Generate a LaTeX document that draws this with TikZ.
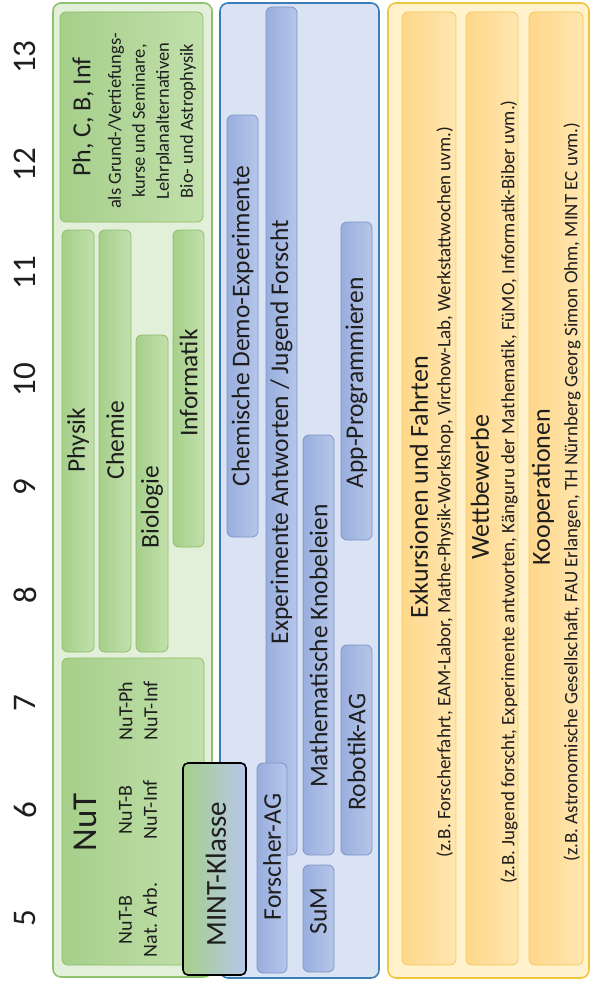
\documentclass[tikz,border=0pt]{standalone}
\usepackage{fontspec}
\setmainfont{Carlito}
\definecolor{gbg}{HTML}{E2F0D9}
\definecolor{gbord}{HTML}{8FC26C}
\definecolor{gil}{HTML}{A6CF8A}
\definecolor{gir}{HTML}{C2E0AC}
\definecolor{gib}{HTML}{8CBD69}
\definecolor{bbg}{HTML}{DAE3F3}
\definecolor{bbord}{HTML}{3B7DB8}
\definecolor{bil}{HTML}{99AEDD}
\definecolor{bir}{HTML}{B6C6EA}
\definecolor{bib}{HTML}{7E94C8}
\definecolor{ybg}{HTML}{FFF2CC}
\definecolor{ybord}{HTML}{F0C63E}
\definecolor{yil}{HTML}{FFD78A}
\definecolor{yir}{HTML}{FFE6B0}
\definecolor{yib}{HTML}{F3C95A}
\definecolor{txt}{HTML}{1E1E1E}
\tikzset{
  outerbox/.style={rounded corners=8pt, line width=1.6pt, inner sep=0pt},
  gouter/.style={outerbox, draw=gbord, fill=gbg},
  bouter/.style={outerbox, draw=bbord, fill=bbg},
  youter/.style={outerbox, draw=ybord, fill=ybg},
  innerbox/.style={rounded corners=6pt, line width=0.8pt, inner sep=0pt},
  ginner/.style={innerbox, draw=gib, left color=gil, right color=gir},
  binner/.style={innerbox, draw=bib, left color=bil, right color=bir},
  yinner/.style={innerbox, draw=yib, left color=yil, right color=yir},
  mintbox/.style={rounded corners=5pt, line width=1.6pt, draw=black, left color=gil, right color=bir, inner sep=0pt},
  lbl/.style={rotate=90, text=txt, inner sep=0pt, font=\fontsize{25.5}{28}\selectfont},
  grade/.style={rotate=90, text=txt, inner sep=0pt, font=\fontsize{33}{36}\selectfont},
  ttl/.style={rotate=90, text=txt, inner sep=0pt, font=\fontsize{26}{30}\selectfont},
  subt/.style={rotate=90, text=txt, inner sep=0pt, font=\fontsize{19}{22}\selectfont},
  small/.style={rotate=90, text=txt, inner sep=0pt, align=center, font=\fontsize{18.5}{24}\selectfont},
  nutsub/.style={rotate=90, text=txt, inner sep=0pt, align=center, font=\fontsize{20}{25}\selectfont},
}
\begin{document}
\begin{tikzpicture}[x=1pt,y=-1pt]
\useasboundingbox (0,0) rectangle (591,982);
% grade numbers
\foreach \g [count=\i from 0] in {5,6,7,8,9,10,11,12,13}{
  \node[grade] (g\g) at (25,{918-\i*107.6}) {\g};
}
% outer containers
\node[gouter, minimum width=159pt, minimum height=974pt] (green) at (132.5,490) {};
\node[bouter, minimum width=159pt, minimum height=975pt] (blue) at (299.5,490.5) {};
\node[youter, minimum width=201pt, minimum height=975pt] (yellow) at (488.5,490.5) {};
% green inner
\node[ginner, minimum width=143pt, minimum height=210pt] (phc) at (131.5,117) {};
\node[ttl] (phct) at (83,117) {Ph, C, B, Inf};
\node[small] (phcs) at (152,121) {als Grund-/Vertiefungs-\\kurse und Seminare,\\Lehrplanalternativen\\Bio- und Astrophysik};
\node[ginner, minimum width=32pt, minimum height=422pt] (phys) at (78,441) {};
\node[lbl] (physt) at (78,440) {Physik};
\node[ginner, minimum width=32pt, minimum height=422pt] (chem) at (115,441) {};
\node[lbl] (chemt) at (115,440) {Chemie};
\node[ginner, minimum width=32pt, minimum height=317pt] (bio) at (152,493.5) {};
\node[lbl] (biot) at (152,507) {Biologie};
\node[ginner, minimum width=31pt, minimum height=317pt] (inf) at (188.5,388.5) {};
\node[lbl] (inft) at (188.5,383) {Informatik};
\node[ginner, minimum width=142pt, minimum height=307pt] (nut) at (133,811.5) {};
\node[rotate=90, text=txt, inner sep=0pt, font=\fontsize{35}{40}\selectfont] (nutt) at (85,822) {NuT};
\node[nutsub] (nut1) at (138,920) {NuT-B\\Nat. Arb.};
\node[nutsub] (nut2) at (138,810) {NuT-B\\NuT-Inf};
\node[nutsub] (nut3) at (138,711) {NuT-Ph\\NuT-Inf};
% blue inner
\node[binner, minimum width=31pt, minimum height=422pt] (demo) at (242.5,326) {};
\node[lbl] (demot) at (242.5,326) {Chemische Demo-Experimente};
\node[binner, minimum width=31pt, minimum height=848pt] (exp) at (281.5,431) {};
\node[lbl] (expt) at (281.5,432) {Experimente Antworten / Jugend Forscht};
\node[binner, minimum width=30pt, minimum height=210pt] (fag) at (272,868) {};
\node[lbl] (fagt) at (272,857) {Forscher-AG};
\node[binner, minimum width=31pt, minimum height=420pt] (math) at (318.5,645) {};
\node[lbl] (matht) at (318.5,646) {Mathematische Knobeleien};
\node[binner, minimum width=31pt, minimum height=107pt] (sum) at (318.5,918.5) {};
\node[lbl] (sumt) at (318.5,911) {SuM};
\node[binner, minimum width=31pt, minimum height=210pt] (rob) at (356.5,750) {};
\node[lbl] (robt) at (356.5,752) {Robotik-AG};
\node[binner, minimum width=31pt, minimum height=318pt] (app) at (356.5,381) {};
\node[lbl] (appt) at (356.5,383) {App-Programmieren};
% MINT-Klasse
\node[mintbox, minimum width=63pt, minimum height=212pt] (mint) at (214.5,869) {};
\node[rotate=90, text=txt, inner sep=0pt, font=\fontsize{29}{32}\selectfont] (mintt) at (216,874) {MINT-Klasse};
% yellow inner
\node[yinner, minimum width=54pt, minimum height=953pt] (exk) at (429,488.5) {};
\node[ttl] (exkt) at (419,487) {Exkursionen und Fahrten};
\node[subt] (exks) at (445,492) {(z.B. Forscherfahrt, EAM-Labor, Mathe-Physik-Workshop, Virchow-Lab, Werkstattwochen uvm.)};
\node[yinner, minimum width=52pt, minimum height=953pt] (wett) at (492,488.5) {};
\node[ttl] (wettt) at (480,487) {Wettbewerbe};
\node[subt] (wetts) at (509,492) {(z.B. Jugend forscht, Experimente antworten, Känguru der Mathematik, FüMO, Informatik-Biber uvm.)};
\node[yinner, minimum width=54pt, minimum height=953pt] (koop) at (556,488.5) {};
\node[ttl] (koopt) at (543,487) {Kooperationen};
\node[subt] (koops) at (572,492) {(z.B. Astronomische Gesellschaft, FAU Erlangen, TH Nürnberg Georg Simon Ohm, MINT EC uvm.)};
\end{tikzpicture}
\end{document}
